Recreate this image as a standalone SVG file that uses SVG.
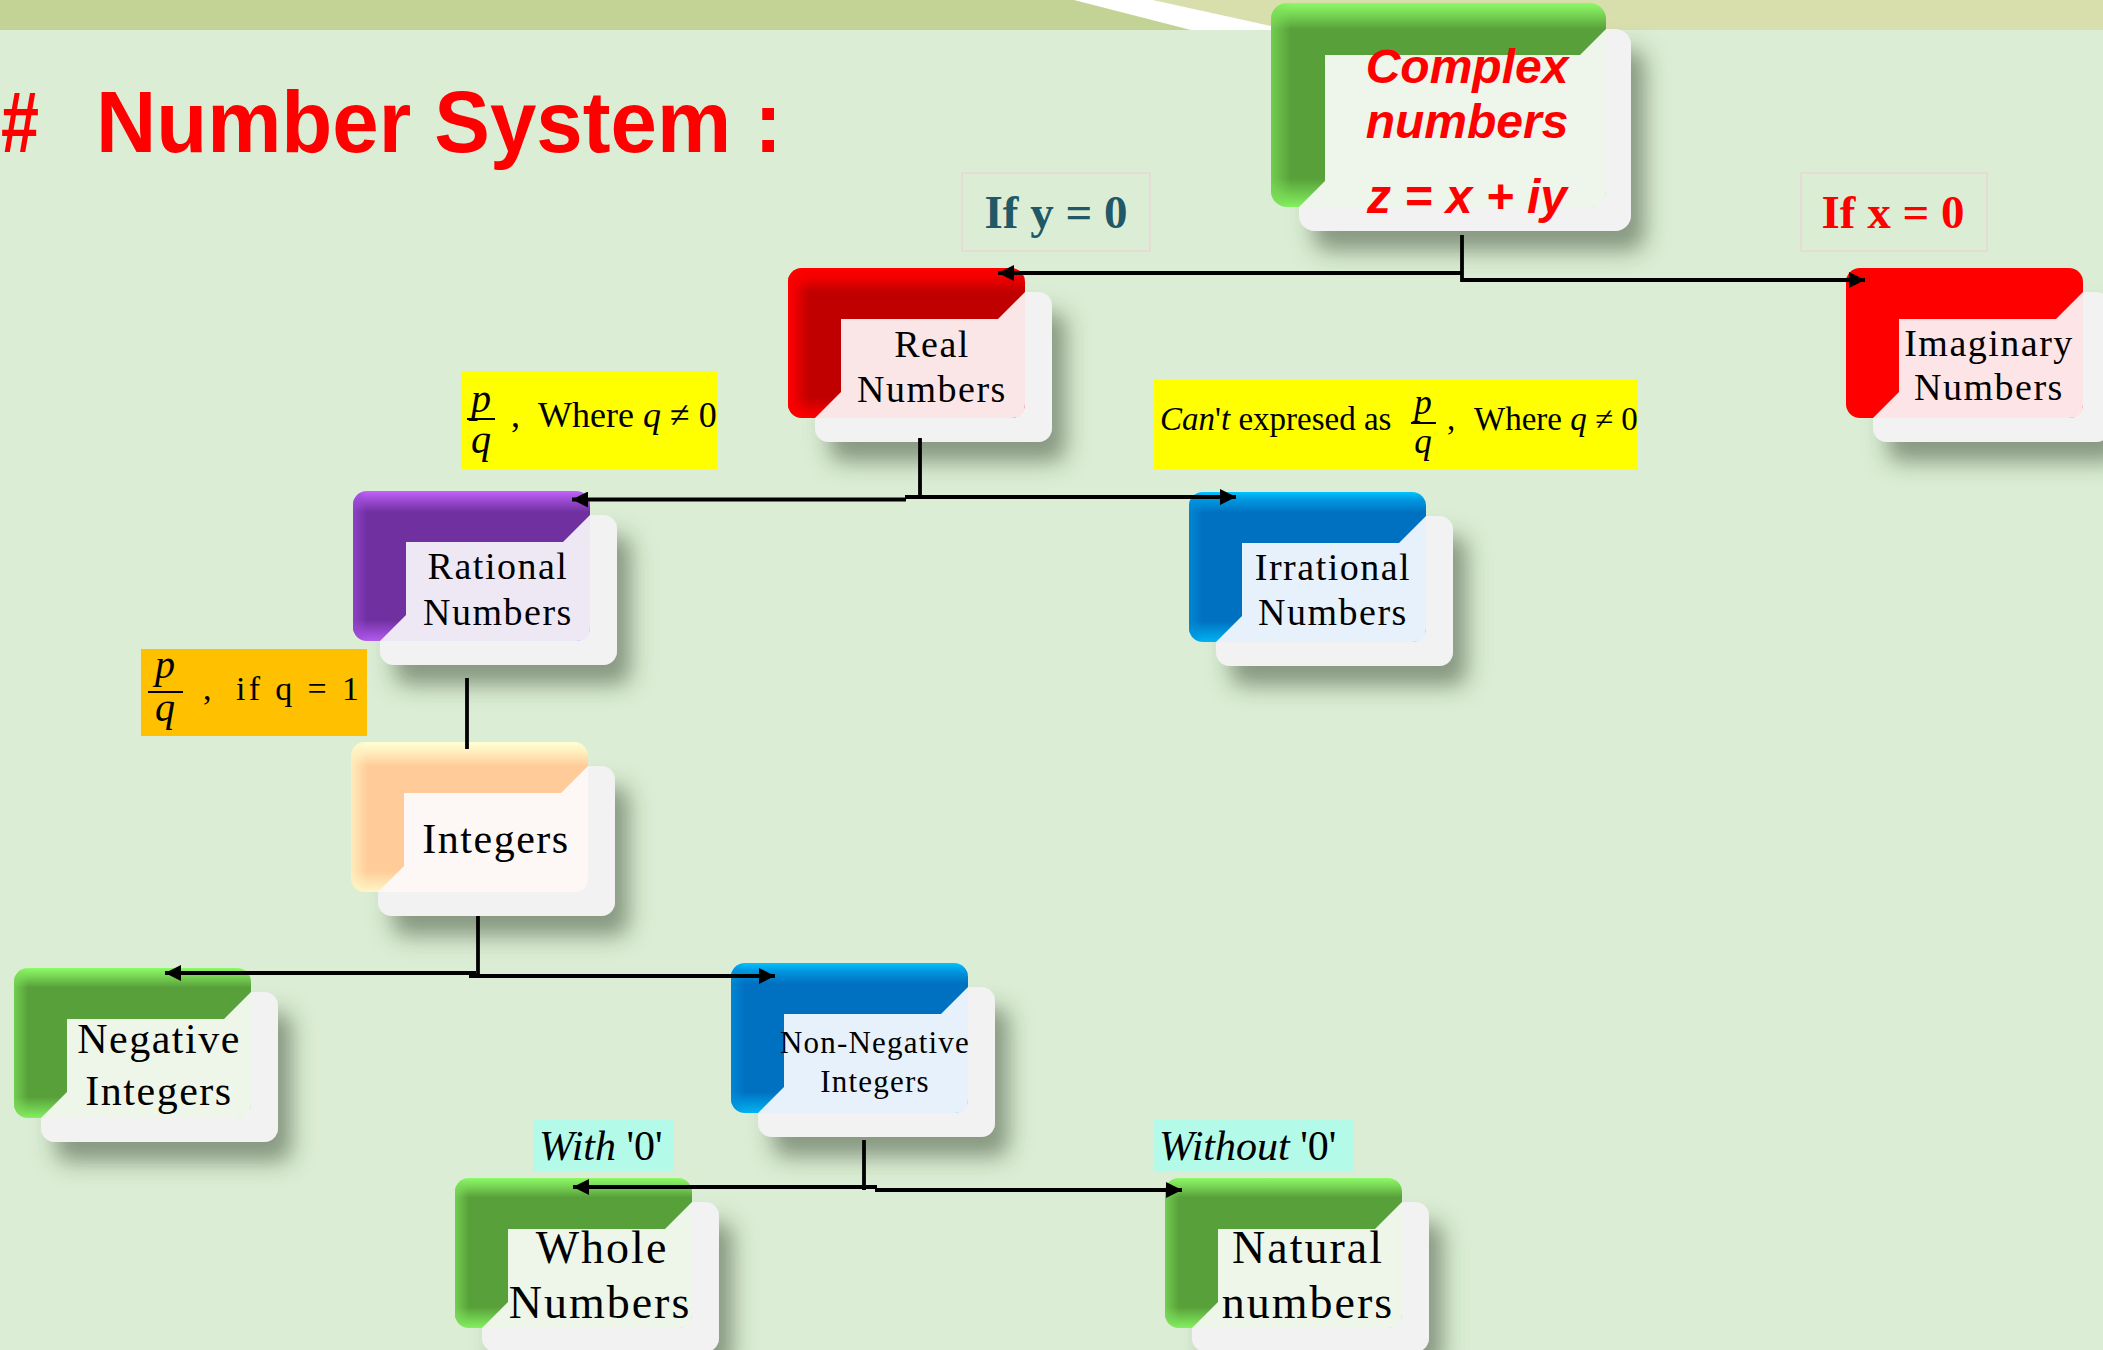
<svg xmlns="http://www.w3.org/2000/svg" width="2103" height="1350" viewBox="0 0 2103 1350">
<style>
.back{fill:#F2F2F2;filter:url(#shadow);}
.nt{font-family:"Liberation Serif",serif;fill:#000;text-anchor:middle;}
.n38{font-size:38px;letter-spacing:1.5px;}
.n42{font-size:42px;letter-spacing:1.5px;}
.n31{font-size:31px;letter-spacing:1.2px;}
.n46{font-size:46px;letter-spacing:2px;}
.ser{font-family:"Liberation Serif",serif;fill:#000;}
.it{font-style:italic;}
.conn path{fill:none;stroke:#000;stroke-width:3.8;}
.arr{marker-end:url(#arrow);}
.cond{fill:none;stroke:#E6DCD6;stroke-width:2;}
</style>
<defs>
<filter id="shadow" x="-30%" y="-30%" width="180%" height="190%">
<feDropShadow dx="14" dy="20" stdDeviation="11" flood-color="#2f4229" flood-opacity="0.5"/>
</filter>
<linearGradient id="vGreen" x1="0" y1="0" x2="0" y2="1">
<stop offset="0" stop-color="#8CFA66"/><stop offset="0.04" stop-color="#7EE05A"/><stop offset="0.13" stop-color="#58A03A"/><stop offset="0.86" stop-color="#58A03A"/><stop offset="1" stop-color="#84F060"/>
</linearGradient>
<linearGradient id="hGreen" x1="0" y1="0" x2="1" y2="0">
<stop offset="0" stop-color="#7EE05A" stop-opacity="0.7"/><stop offset="0.06" stop-color="#7EE05A" stop-opacity="0"/>
</linearGradient>
<linearGradient id="vRed" x1="0" y1="0" x2="0" y2="1">
<stop offset="0" stop-color="#FF0000"/><stop offset="0.06" stop-color="#F40000"/><stop offset="0.16" stop-color="#C00000"/><stop offset="0.86" stop-color="#C00000"/><stop offset="1" stop-color="#FF0000"/>
</linearGradient>
<linearGradient id="hRed" x1="0" y1="0" x2="1" y2="0">
<stop offset="0" stop-color="#FF0000" stop-opacity="1"/><stop offset="0.04" stop-color="#FF0000" stop-opacity="0.6"/><stop offset="0.09" stop-color="#FF0000" stop-opacity="0"/>
</linearGradient>
<linearGradient id="vPurple" x1="0" y1="0" x2="0" y2="1">
<stop offset="0" stop-color="#C463FF"/><stop offset="0.05" stop-color="#A24FDA"/><stop offset="0.14" stop-color="#7030A0"/><stop offset="0.86" stop-color="#7030A0"/><stop offset="1" stop-color="#B45AF0"/>
</linearGradient>
<linearGradient id="hPurple" x1="0" y1="0" x2="1" y2="0">
<stop offset="0" stop-color="#9A48D6" stop-opacity="0.7"/><stop offset="0.06" stop-color="#9A48D6" stop-opacity="0"/>
</linearGradient>
<linearGradient id="vBlue" x1="0" y1="0" x2="0" y2="1">
<stop offset="0" stop-color="#00C4FF"/><stop offset="0.05" stop-color="#0098E0"/><stop offset="0.14" stop-color="#0070C0"/><stop offset="0.86" stop-color="#0070C0"/><stop offset="1" stop-color="#00B4F4"/>
</linearGradient>
<linearGradient id="hBlue" x1="0" y1="0" x2="1" y2="0">
<stop offset="0" stop-color="#0090DC" stop-opacity="0.7"/><stop offset="0.06" stop-color="#0090DC" stop-opacity="0"/>
</linearGradient>
<linearGradient id="vPeach" x1="0" y1="0" x2="0" y2="1">
<stop offset="0" stop-color="#FFFFD6"/><stop offset="0.06" stop-color="#FFF0C0"/><stop offset="0.16" stop-color="#FFCC99"/><stop offset="0.86" stop-color="#FFCC99"/><stop offset="1" stop-color="#FFF6C8"/>
</linearGradient>
<linearGradient id="hPeach" x1="0" y1="0" x2="1" y2="0">
<stop offset="0" stop-color="#FFF4C4" stop-opacity="0.8"/><stop offset="0.07" stop-color="#FFF4C4" stop-opacity="0"/>
</linearGradient>
<rect id="back" x="27" y="24" width="237" height="150" rx="14"/>
<rect id="front" x="0" y="0" width="237" height="150" rx="14"/>
<path id="panel" d="M53,51 H210 L237,24 V136 Q237,150 223,150 H27 L53,124 Z"/>
<marker id="arrow" viewBox="0 0 10 10" refX="10" refY="5" markerWidth="18" markerHeight="16" markerUnits="userSpaceOnUse" orient="auto">
<path d="M0,0 L10,5 L0,10 Z" fill="#000"/>
</marker>
</defs>

<!-- background -->
<rect x="0" y="0" width="2103" height="1350" fill="#DBEED5"/>
<rect x="0" y="0" width="2103" height="30" fill="#C3D396"/>
<polygon points="1153,0 2103,0 2103,30 1285,30" fill="#D8DFAC"/>
<polygon points="1074,0 1153,0 1285,29 1285,30 1191,30" fill="#FFFFFF"/>

<!-- title -->
<text x="1" y="152" font-family="'Liberation Sans',Arial,sans-serif" font-weight="bold" font-size="88" fill="#FF0000" textLength="38" lengthAdjust="spacingAndGlyphs">#</text>
<text x="96" y="152" font-family="'Liberation Sans',Arial,sans-serif" font-weight="bold" font-size="88" fill="#FF0000" textLength="686" lengthAdjust="spacingAndGlyphs">Number System :</text>

<!-- condition labels -->
<g id="cond-y0">
<rect x="962" y="173" width="188" height="78" class="cond"/>
<text x="1056" y="228" font-family="'Liberation Serif',serif" font-weight="bold" font-size="47" fill="#215868" text-anchor="middle">If y = 0</text>
</g>
<g id="cond-x0">
<rect x="1801" y="173" width="186" height="78" class="cond"/>
<text x="1893" y="228" font-family="'Liberation Serif',serif" font-weight="bold" font-size="47" fill="#FF0000" text-anchor="middle">If x = 0</text>
</g>
<g id="cond-rational">
<rect x="461" y="371" width="256" height="98" fill="#FFFF00"/>
<text x="481" y="412" class="ser it" font-size="40" text-anchor="middle">p</text>
<line x1="467" y1="419" x2="495" y2="419" stroke="#000" stroke-width="2"/>
<text x="481" y="453" class="ser it" font-size="40" text-anchor="middle">q</text>
<text x="511" y="427" class="ser" font-size="36">,</text>
<text x="538" y="427" class="ser" font-size="36">Where <tspan class="it">q</tspan> ≠ 0</text>
</g>
<g id="cond-irrational">
<rect x="1154" y="380" width="483" height="89" fill="#FFFF00"/>
<text x="1160" y="430" class="ser" font-size="33"><tspan class="it">Can</tspan>'<tspan class="it">t</tspan> expresed as</text>
<text x="1423" y="414" class="ser it" font-size="35" text-anchor="middle">p</text>
<line x1="1411" y1="423" x2="1436" y2="423" stroke="#000" stroke-width="2"/>
<text x="1423" y="453" class="ser it" font-size="35" text-anchor="middle">q</text>
<text x="1447" y="430" class="ser" font-size="33">,</text>
<text x="1474" y="430" class="ser" font-size="33">Where <tspan class="it">q</tspan> ≠ 0</text>
</g>
<g id="cond-integers">
<rect x="141" y="649" width="226" height="87" fill="#FFC000"/>
<text x="165" y="678" class="ser it" font-size="40" text-anchor="middle">p</text>
<line x1="148" y1="692" x2="183" y2="692" stroke="#000" stroke-width="2"/>
<text x="165" y="721" class="ser it" font-size="40" text-anchor="middle">q</text>
<text x="203" y="700" class="ser" font-size="34">,</text>
<text x="236" y="700" class="ser" font-size="34" textLength="123" lengthAdjust="spacing">if q = 1</text>
</g>
<g id="cond-with0">
<rect x="533" y="1120" width="141" height="51" fill="#B3FBE8"/>
<text x="539" y="1160" class="ser" font-size="42"><tspan class="it">With</tspan> '0'</text>
</g>
<g id="cond-without0">
<rect x="1154" y="1120" width="200" height="52" fill="#B3FBE8"/>
<text x="1159" y="1160" class="ser" font-size="42"><tspan class="it">Without</tspan> '0'</text>
</g>

<!-- nodes -->
<g id="complex">
<rect x="1299" y="29" width="332" height="202" rx="16" class="back"/>
<rect x="1271" y="3" width="335" height="204" rx="16" fill="url(#vGreen)"/>
<rect x="1271" y="3" width="335" height="204" rx="16" fill="url(#hGreen)"/>
<path d="M1325,55 H1580 L1606,29 V191 Q1606,207 1590,207 H1299 L1325,181 Z" fill="#EEF5EB"/>
<g font-family="'Liberation Sans',Arial,sans-serif" font-weight="bold" font-style="italic" font-size="48" fill="#FF0000" text-anchor="middle">
<text x="1467" y="83">Complex</text>
<text x="1467" y="138">numbers</text>
<text x="1467" y="213">z = x + iy</text>
</g>
</g>

<g id="real" transform="translate(788,268)">
<use href="#back" class="back"/>
<use href="#front" fill="url(#vRed)"/>
<use href="#front" fill="url(#hRed)"/>
<use href="#panel" fill="#FBE6E7"/>
<text class="nt n38" x="144" y="89">Real</text>
<text class="nt n38" x="144" y="134">Numbers</text>
</g>

<g id="imaginary" transform="translate(1846,268)">
<use href="#back" class="back"/>
<use href="#front" fill="#FF0000"/>
<use href="#panel" fill="#FDE4E6"/>
<text class="nt n38" x="143" y="88">Imaginary</text>
<text class="nt n38" x="143" y="132">Numbers</text>
</g>

<g id="rational" transform="translate(353,491)">
<use href="#back" class="back"/>
<use href="#front" fill="url(#vPurple)"/>
<use href="#front" fill="url(#hPurple)"/>
<use href="#panel" fill="#EEE8F5"/>
<text class="nt n38" x="145" y="88">Rational</text>
<text class="nt n38" x="145" y="134">Numbers</text>
</g>

<g id="irrational" transform="translate(1189,492)">
<use href="#back" class="back"/>
<use href="#front" fill="url(#vBlue)"/>
<use href="#front" fill="url(#hBlue)"/>
<use href="#panel" fill="#E6F1FB"/>
<text class="nt n38" x="144" y="88">Irrational</text>
<text class="nt n38" x="144" y="133">Numbers</text>
</g>

<g id="integers" transform="translate(351,742)">
<use href="#back" class="back"/>
<use href="#front" fill="url(#vPeach)"/>
<use href="#front" fill="url(#hPeach)"/>
<use href="#panel" fill="#FDF8F5"/>
<text class="nt n42" x="145" y="111">Integers</text>
</g>

<g id="negative" transform="translate(14,968)">
<use href="#back" class="back"/>
<use href="#front" fill="url(#vGreen)"/>
<use href="#front" fill="url(#hGreen)"/>
<use href="#panel" fill="#EEF6EA"/>
<text class="nt n42" x="145" y="85">Negative</text>
<text class="nt n42" x="145" y="137">Integers</text>
</g>

<g id="nonnegative" transform="translate(731,963)">
<use href="#back" class="back"/>
<use href="#front" fill="url(#vBlue)"/>
<use href="#front" fill="url(#hBlue)"/>
<use href="#panel" fill="#E6F1FB"/>
<text class="nt n31" x="144" y="90">Non-Negative</text>
<text class="nt n31" x="144" y="129">Integers</text>
</g>

<g id="whole" transform="translate(455,1178)">
<use href="#back" class="back"/>
<use href="#front" fill="url(#vGreen)"/>
<use href="#front" fill="url(#hGreen)"/>
<use href="#panel" fill="#EEF6EA"/>
<text class="nt n46" x="147" y="85">Whole</text>
<text class="nt n46" x="145" y="140">Numbers</text>
</g>

<g id="natural" transform="translate(1165,1178)">
<use href="#back" class="back"/>
<use href="#front" fill="url(#vGreen)"/>
<use href="#front" fill="url(#hGreen)"/>
<use href="#panel" fill="#EEF6EA"/>
<text class="nt n46" x="143" y="85">Natural</text>
<text class="nt n46" x="143" y="140">numbers</text>
</g>

<!-- connectors -->
<g id="connectors" class="conn">
<path d="M1462,235 V282"/>
<path class="arr" d="M1462,273 H998"/>
<path class="arr" d="M1461,280 H1865"/>
<path d="M920,438 V498"/>
<path class="arr" d="M905,497 H1236"/>
<path class="arr" d="M906,499.5 H572"/>
<path d="M467,678 V749"/>
<path d="M478,916 V977"/>
<path class="arr" d="M476,973 H165"/>
<path class="arr" d="M469,976 H775"/>
<path d="M864,1140 V1190"/>
<path class="arr" d="M877,1187 H573"/>
<path class="arr" d="M875,1190 H1182"/>
</g>
</svg>
